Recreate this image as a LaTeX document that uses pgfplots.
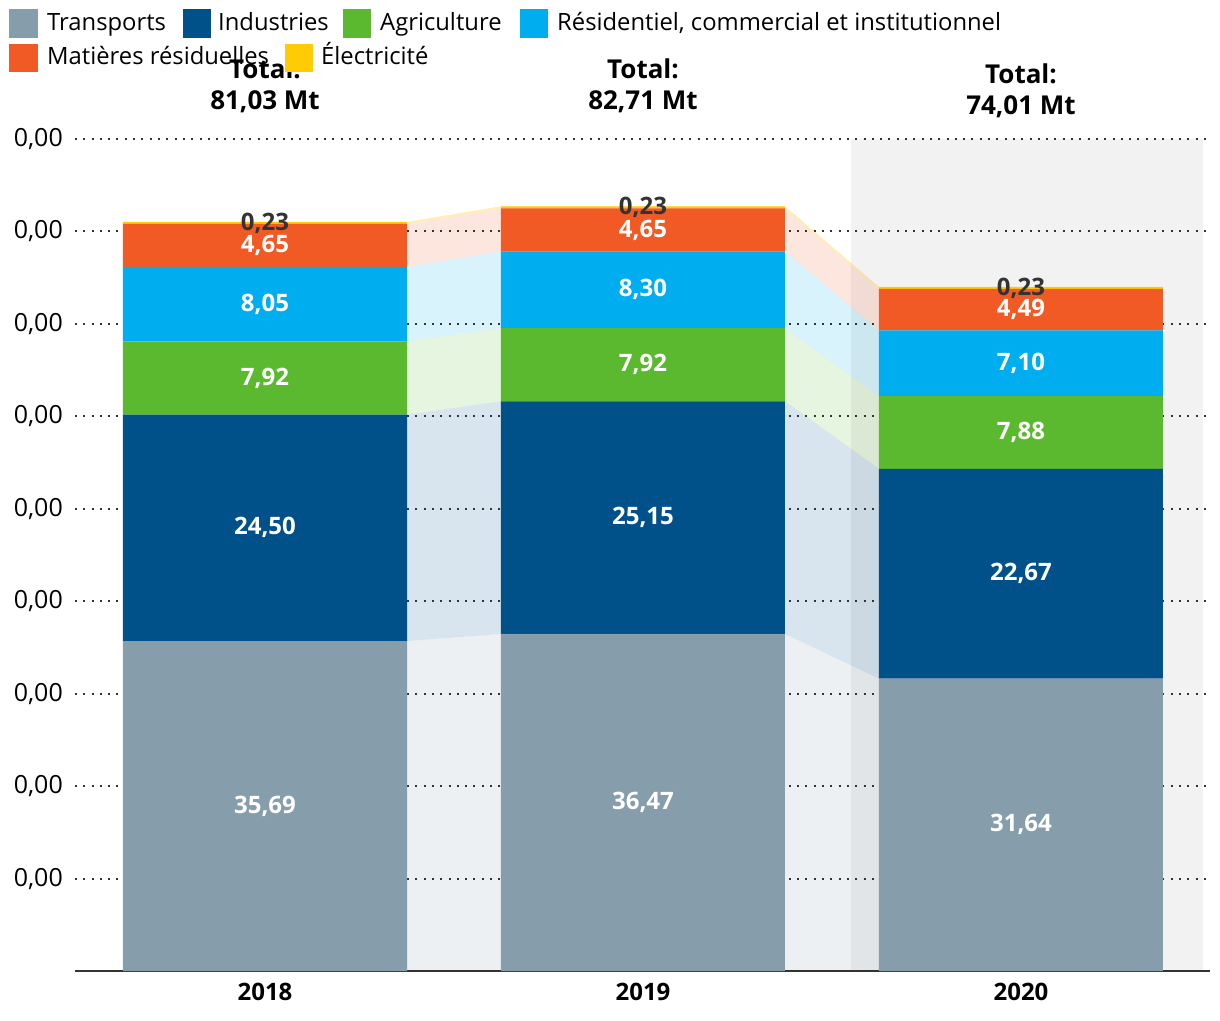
\documentclass[border=0pt]{standalone}
\usepackage{pgfplots}
\pgfplotsset{compat=1.18}
\usepackage{fontspec}
\setmainfont{Open Sans}
\definecolor{cT}{HTML}{869DAB}
\definecolor{cI}{HTML}{00508A}
\definecolor{cA}{HTML}{5AB92E}
\definecolor{cR}{HTML}{00AEEF}
\definecolor{cM}{HTML}{F15A24}
\definecolor{cE}{HTML}{FFCB05}
\definecolor{bandc}{HTML}{F2F2F2}
\definecolor{txt}{HTML}{333333}
\newcommand\labfont{\fontsize{24}{28}\selectfont\bfseries}
\newcommand{\lab}[3]{\node[font=\labfont,text=white] at (axis cs:#1,#2) {#3};}
\newcommand{\labd}[3]{\node[font=\labfont,text=txt] at (axis cs:#1,#2) {#3};}
\pgfplotsset{common/.style={at={(0,0)}, anchor=south west,
  scale only axis, width=1135pt, height=832pt,
  xmin=-0.50265, xmax=2.5, ymin=0, ymax=90}}
\begin{document}
\begin{tikzpicture}
% ---------- background: 2020 band and translucent flows ----------
\begin{axis}[common, name=bg, hide axis]
\addplot[fill=bandc, draw=none] coordinates {(1.5503,0)(2.4815,0)(2.4815,90)(1.5503,90)};
\addplot[fill=cT, fill opacity=0.15, draw=none] coordinates {(0.3757,0)(0.6243,0)(1.3757,0)(1.6243,0)(1.6243,31.64)(1.3757,36.47)(0.6243,36.47)(0.3757,35.69)};
\addplot[fill=cI, fill opacity=0.15, draw=none] coordinates {(0.3757,35.69)(0.6243,36.47)(1.3757,36.47)(1.6243,31.64)(1.6243,54.31)(1.3757,61.62)(0.6243,61.62)(0.3757,60.19)};
\addplot[fill=cA, fill opacity=0.15, draw=none] coordinates {(0.3757,60.19)(0.6243,61.62)(1.3757,61.62)(1.6243,54.31)(1.6243,62.19)(1.3757,69.54)(0.6243,69.54)(0.3757,68.11)};
\addplot[fill=cR, fill opacity=0.15, draw=none] coordinates {(0.3757,68.11)(0.6243,69.54)(1.3757,69.54)(1.6243,62.19)(1.6243,69.29)(1.3757,77.84)(0.6243,77.84)(0.3757,76.16)};
\addplot[fill=cM, fill opacity=0.15, draw=none] coordinates {(0.3757,76.16)(0.6243,77.84)(1.3757,77.84)(1.6243,69.29)(1.6243,73.78)(1.3757,82.49)(0.6243,82.49)(0.3757,80.81)};
\addplot[fill=cE, fill opacity=0.3, draw=none] coordinates {(0.3757,80.81)(0.6243,82.49)(1.3757,82.49)(1.6243,73.78)(1.6243,74.01)(1.3757,82.72)(0.6243,82.72)(0.3757,81.04)};
\end{axis}
% ---------- main axis: grid and stacked bars ----------
\begin{axis}[common, name=ax,
  ybar stacked, bar width=284pt,
  axis x line*=bottom, axis y line*=left,
  x axis line style={draw=txt, line width=2.5pt},
  y axis line style={draw=none},
  xtick={0,1,2}, xticklabels={2018,2019,2020},
  ytick={10,20,30,40,50,60,70,80,90},
  yticklabels={{0,00},{0,00},{0,00},{0,00},{0,00},{0,00},{0,00},{0,00},{0,00}},
  major tick length=0pt,
  xticklabel style={font=\fontsize{24}{28}\selectfont\bfseries, anchor=north, inner sep=0pt, yshift=-12pt},
  yticklabel style={font=\fontsize{25}{30}\selectfont, text=black, anchor=east, inner sep=0pt, xshift=-12pt},
  ymajorgrids, xmajorgrids=false,
  major grid style={draw=txt, line width=2pt, dash pattern=on 2pt off 6.3pt},
  clip=false]
\addplot[fill=cT, draw=none] coordinates {(0,35.69)(1,36.47)(2,31.64)};
\addplot[fill=cI, draw=none] coordinates {(0,24.50)(1,25.15)(2,22.67)};
\addplot[fill=cA, draw=none] coordinates {(0,7.92)(1,7.92)(2,7.88)};
\addplot[fill=cR, draw=none] coordinates {(0,8.05)(1,8.30)(2,7.10)};
\addplot[fill=cM, draw=none] coordinates {(0,4.65)(1,4.65)(2,4.49)};
\addplot[fill=cE, draw=none] coordinates {(0,0.23)(1,0.23)(2,0.23)};
\end{axis}
% ---------- overlay: value labels and totals ----------
\begin{axis}[common, name=lb, hide axis, clip=false]
\lab{0}{17.845}{35,69} \lab{1}{18.235}{36,47} \lab{2}{15.82}{31,64}
\lab{0}{47.94}{24,50}  \lab{1}{49.045}{25,15} \lab{2}{42.975}{22,67}
\lab{0}{64.15}{7,92}   \lab{1}{65.58}{7,92}   \lab{2}{58.25}{7,88}
\lab{0}{72.135}{8,05}  \lab{1}{73.69}{8,30}   \lab{2}{65.74}{7,10}
\lab{0}{78.485}{4,65}  \lab{1}{80.165}{4,65}  \lab{2}{71.535}{4,49}
\labd{0}{80.925}{0,23} \labd{1}{82.605}{0,23} \labd{2}{73.895}{0,23}
\node[font=\fontsize{26}{31}\selectfont\bfseries, align=center] at (axis cs:0,95.73) {Total:\\81,03 Mt};
\node[font=\fontsize{26}{31}\selectfont\bfseries, align=center] at (axis cs:1,95.73) {Total:\\82,71 Mt};
\node[font=\fontsize{26}{31}\selectfont\bfseries, align=center] at (axis cs:2,95.24) {Total:\\74,01 Mt};
\end{axis}
% ---------- legend (pixel coordinates from top-left) ----------
\coordinate (TL) at ([shift={(-75pt,971pt)}]ax.south west);
\begin{scope}[shift={(TL)}, x=1pt, y=-1pt]
\def\lgfont{\fontsize{23.8}{28}\selectfont}
\fill[cT] (9,9) rectangle (38,38);   \node[anchor=base west, inner sep=0pt, font=\lgfont] at (47,31) {Transports};
\fill[cI] (183,9) rectangle (211,38); \node[anchor=base west, inner sep=0pt, font=\lgfont] at (218,31) {Industries};
\fill[cA] (343,9) rectangle (371,38); \node[anchor=base west, inner sep=0pt, font=\lgfont] at (380,31) {Agriculture};
\fill[cR] (520,9) rectangle (548,38); \node[anchor=base west, inner sep=0pt, font=\lgfont] at (557,31) {Résidentiel, commercial et institutionnel};
\fill[cM] (9,44) rectangle (38,72);   \node[anchor=base west, inner sep=0pt, font=\lgfont] at (47,65) {Matières résiduelles};
\fill[cE] (285,44) rectangle (313,72); \node[anchor=base west, inner sep=0pt, font=\lgfont] at (321,65) {Électricité};
\end{scope}
\pgfresetboundingbox
\path[use as bounding box] (TL) rectangle ([shift={(1220pt,-1020pt)}]TL);
\end{tikzpicture}
\end{document}
